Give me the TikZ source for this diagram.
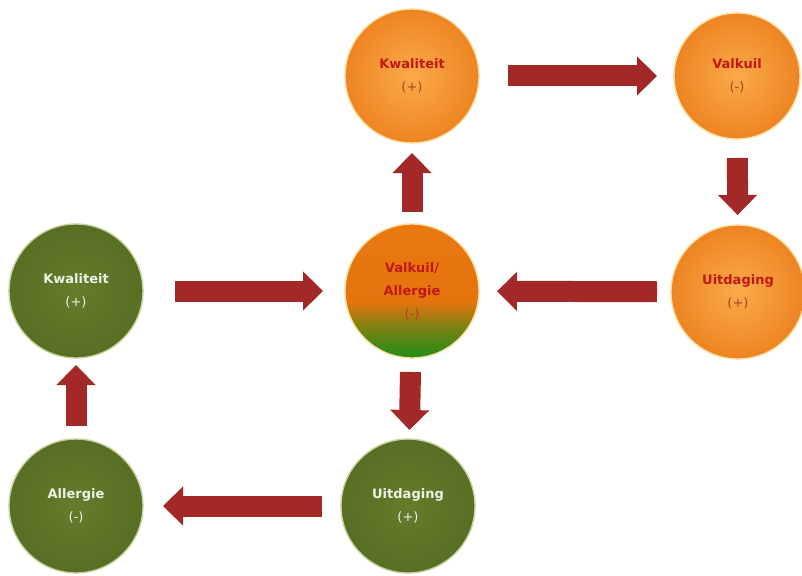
\documentclass[tikz,border=0pt]{standalone}
\usepackage{fontspec}
\setmainfont{DejaVu Sans}
\usetikzlibrary{arrows.meta,shadings}
\definecolor{orA}{RGB}{250,170,75}
\definecolor{orB}{RGB}{238,132,34}
\definecolor{orRim}{RGB}{252,222,160}
\definecolor{grA}{RGB}{100,124,44}
\definecolor{grB}{RGB}{88,110,36}
\definecolor{grRim}{RGB}{200,212,160}
\definecolor{redtxt}{RGB}{192,24,20}
\definecolor{redsub}{RGB}{175,65,35}
\definecolor{greentxt}{RGB}{238,242,228}
\definecolor{arrowred}{RGB}{163,40,40}
\definecolor{mixG}{RGB}{45,140,25}
\definecolor{mixM}{RGB}{130,128,18}
\definecolor{mixO}{RGB}{230,116,14}
\definecolor{mixT}{RGB}{238,124,22}
\pgfdeclareverticalshading{orgr}{100bp}{color(0bp)=(mixG); color(27bp)=(mixG); color(37bp)=(mixM); color(46bp)=(mixO); color(100bp)=(mixT)}
\tikzset{
  circ/.style={circle, minimum size=134pt, inner sep=0pt, align=center, line width=1.4pt, font=\fontsize{13}{23}\selectfont},
  orangecirc/.style={circ, shading=radial, inner color=orA, outer color=orB, draw=orRim},
  greencirc/.style={circ, shading=radial, inner color=grA, outer color=grB, draw=grRim},
  mixcirc/.style={circ, shading=orgr, draw=orRim},
  blockarrow/.style={draw=arrowred, line width=21pt, -{Triangle[width=38pt,length=20pt]}},
}
\newcommand{\otxt}[2]{{\color{redtxt}\bfseries #1}\\{\color{redsub}#2}}
\newcommand{\gtxt}[2]{{\color{greentxt}\bfseries #1}\\{\color{greentxt}#2}}
\begin{document}
\begin{tikzpicture}[x=1pt,y=-1pt]
\useasboundingbox (0,0) rectangle (802,575);
\node[orangecirc] (k1) at (412,76) {\otxt{Kwaliteit}{(+)}};
\node[orangecirc, minimum size=126pt] (v1) at (737,76) {\otxt{Valkuil}{(-)}};
\node[orangecirc] (u1) at (738,292) {\otxt{Uitdaging}{(+)}};
\node[mixcirc] (c) at (412,291) {{\color{redtxt}\bfseries Valkuil/}\\{\color{redtxt}\bfseries Allergie}\\{\color{redsub}(-)}};
\node[greencirc] (k2) at (76,291) {\gtxt{Kwaliteit}{(+)}};
\node[greencirc] (a2) at (76,506) {\gtxt{Allergie}{(-)}};
\node[greencirc] (u2) at (408,506) {\gtxt{Uitdaging}{(+)}};
\draw[blockarrow, shorten <=96pt, shorten >=80pt] (k1.center) -- (v1.center);
\draw[blockarrow, shorten <=82pt, shorten >=77pt] (v1.center) -- (u1.center);
\draw[blockarrow, shorten <=81pt, shorten >=85pt] (u1.center) -- (c.center);
\draw[blockarrow, shorten <=79pt, shorten >=77pt] (c.center) -- (k1.center);
\draw[blockarrow, shorten <=99pt, shorten >=89pt] (k2.center) -- (c.center);
\draw[blockarrow, shorten <=81pt, shorten >=76pt] (c.center) -- (u2.center);
\draw[blockarrow, shorten <=86pt, shorten >=87pt] (u2.center) -- (a2.center);
\draw[blockarrow, shorten <=80pt, shorten >=74pt] (a2.center) -- (k2.center);
\end{tikzpicture}
\end{document}
